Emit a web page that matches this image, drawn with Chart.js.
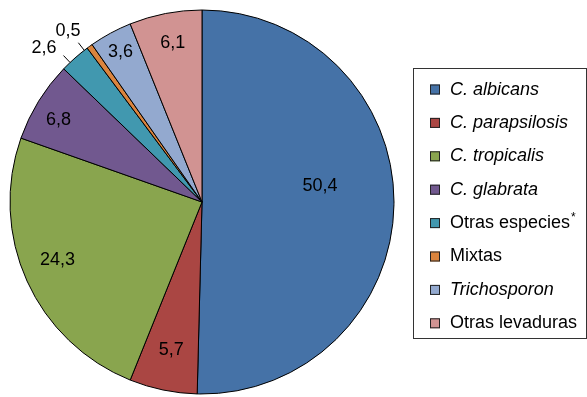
<!DOCTYPE html>
<html>
<head>
<meta charset="utf-8">
<script src="https://cdn.jsdelivr.net/npm/chart.js@4/dist/chart.umd.min.js"></script>
<style>
  html, body { margin: 0; padding: 0; background: #fff; }
  #wrap { width: 587px; height: 397px; position: relative; }
</style>
</head>
<body>
<div id="wrap"><canvas id="c" width="587" height="397"></canvas></div>
<script>
// Distribution of isolates (%)
const categories = ['C. albicans', 'C. parapsilosis', 'C. tropicalis', 'C. glabrata',
                    'Otras especies', 'Mixtas', 'Trichosporon', 'Otras levaduras'];
const percentages = [50.4, 5.7, 24.3, 6.8, 2.6, 0.5, 3.6, 6.1];
const italicNames = [true, true, true, true, false, false, true, false];
const nameMarks = ['', '', '', '', '*', '', '', ''];
const sliceColors = ['#4572A7', '#AA4643', '#89A54E', '#71588F',
                     '#4198AF', '#DB843D', '#93A9CF', '#D19392'];

// Value label placement: fraction of the radius and a small angular nudge (degrees).
// Labels with outside:true get a leader line from the rim.
const labelPlacement = [
  { r: 0.62, da: -8.6 }, { r: 0.79, da: 0 }, { r: 0.81, da: 2.5 }, { r: 0.86, da: -2 },
  { r: 1.15, da: -4.3, outside: true }, { r: 1.13, da: -2.3, outside: true },
  { r: 0.89, da: 0 }, { r: 0.84, da: 0.5 }
];

const FONT = '"Liberation Sans", Arial, Helvetica, sans-serif';

const fmt = v => v.toFixed(1).replace('.', ',');

const valueLabels = {
  id: 'valueLabels',
  afterDatasetsDraw(chart) {
    const ctx = chart.ctx;
    const meta = chart.getDatasetMeta(0);
    ctx.save();
    ctx.fillStyle = '#000';
    ctx.strokeStyle = '#000';
    ctx.lineWidth = 1;
    ctx.font = '18px ' + FONT;
    ctx.textAlign = 'center';
    ctx.textBaseline = 'middle';
    meta.data.forEach((arc, i) => {
      const p = arc.getProps(['x', 'y', 'startAngle', 'endAngle', 'outerRadius'], true);
      const mid = (p.startAngle + p.endAngle) / 2;
      const place = labelPlacement[i];
      if (place.outside) {
        const a0 = mid - 2 * Math.PI / 180;
        ctx.beginPath();
        ctx.moveTo(p.x + Math.cos(a0) * p.outerRadius, p.y + Math.sin(a0) * p.outerRadius);
        ctx.lineTo(p.x + Math.cos(a0) * p.outerRadius * 1.05, p.y + Math.sin(a0) * p.outerRadius * 1.05);
        ctx.stroke();
      }
      const a = mid + place.da * Math.PI / 180;
      const lx = p.x + Math.cos(a) * p.outerRadius * place.r;
      const ly = p.y + Math.sin(a) * p.outerRadius * place.r;
      ctx.fillText(fmt(percentages[i]), lx, ly);
    });
    ctx.restore();
  }
};

const boxLegend = {
  id: 'boxLegend',
  afterDraw(chart) {
    const ctx = chart.ctx;
    const box = { x: 413.5, y: 68.5, w: 173, h: 270 };
    ctx.save();
    ctx.strokeStyle = '#333';
    ctx.lineWidth = 1;
    ctx.strokeRect(box.x, box.y, box.w, box.h);
    const step = 33.4;
    const firstY = 89.5;
    categories.forEach((name, i) => {
      const cy = firstY + i * step;
      ctx.fillStyle = sliceColors[i];
      ctx.fillRect(430, cy - 5, 10, 10);
      ctx.strokeStyle = '#222';
      ctx.strokeRect(430.5, cy - 4.5, 9, 9);
      ctx.fillStyle = '#000';
      ctx.textAlign = 'left';
      ctx.textBaseline = 'middle';
      ctx.font = (italicNames[i] ? 'italic ' : '') + '18px ' + FONT;
      ctx.fillText(name, 450, cy);
      if (nameMarks[i]) {
        const w = ctx.measureText(name).width;
        ctx.font = '12px ' + FONT;
        ctx.fillText(nameMarks[i], 450 + w + 1, cy - 5);
      }
    });
    ctx.restore();
  }
};

new Chart(document.getElementById('c'), {
  type: 'pie',
  data: {
    labels: categories,
    datasets: [{
      data: percentages,
      backgroundColor: sliceColors,
      borderColor: '#000',
      borderWidth: 1,
      radius: 192
    }]
  },
  options: {
    responsive: false,
    animation: false,
    layout: { padding: { left: 0, right: 183, top: 7, bottom: 0 } },
    plugins: {
      legend: { display: false },
      tooltip: { enabled: false }
    }
  },
  plugins: [valueLabels, boxLegend]
});
</script>
</body>
</html>
